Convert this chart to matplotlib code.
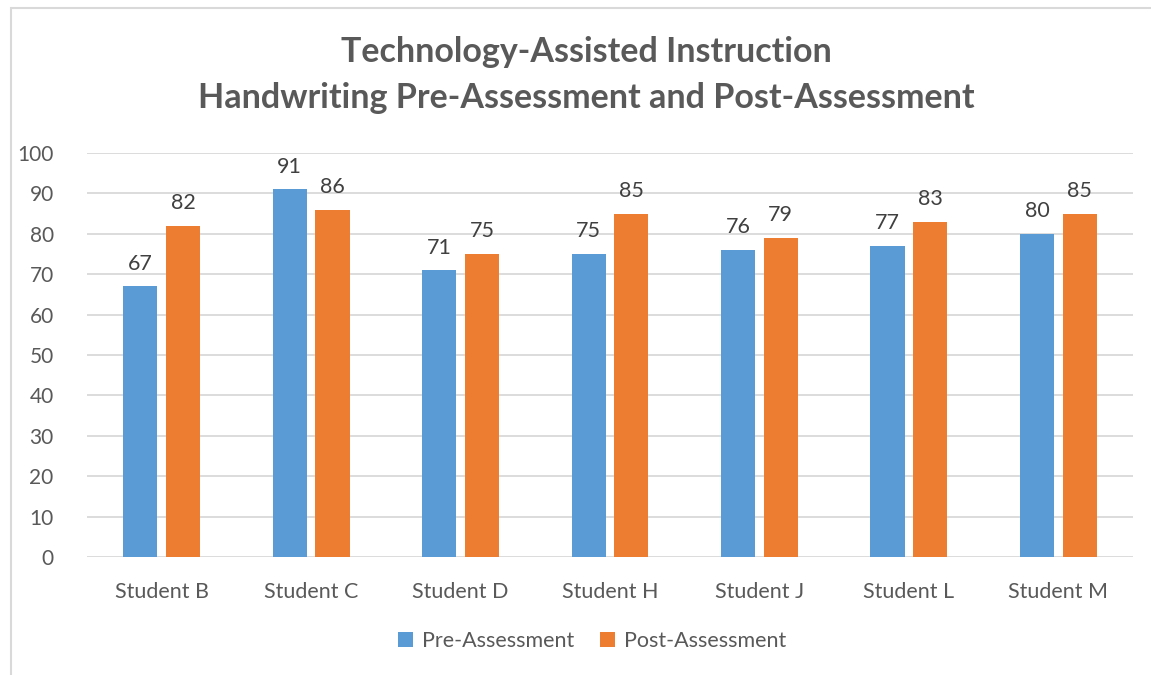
import numpy as np
import matplotlib
matplotlib.use("Agg")
import matplotlib.pyplot as plt
from matplotlib.patches import Rectangle

plt.rcParams["font.family"] = ["Lato", "DejaVu Sans"]

students = ["Student B", "Student C", "Student D", "Student H", "Student J", "Student L", "Student M"]
pre_scores = [67, 91, 71, 75, 76, 77, 80]
post_scores = [82, 86, 75, 85, 79, 83, 85]
yticks = list(range(0, 101, 10))

BLUE = "#5B9BD5"
ORANGE = "#ED7D31"
GRAY = "#595959"
GRID = "#D9D9D9"

fig = plt.figure(figsize=(11.51, 6.75), dpi=100)
ax = fig.add_axes([87 / 1151, 1 - 557 / 675, (1133 - 87) / 1151, (557 - 153) / 675])

x = np.arange(len(students))
w = 0.228
off = 0.143
b1 = ax.bar(x - off, pre_scores, w, color=BLUE, label="Pre-Assessment", zorder=3)
b2 = ax.bar(x + off, post_scores, w, color=ORANGE, label="Post-Assessment", zorder=3)
for bars in (b1, b2):
    ax.bar_label(bars, padding=9, fontsize=15.5, color="#404040")

ax.set_xlim(-0.5, len(students) - 0.5)
ax.set_ylim(0, 100)
ax.set_yticks(yticks)
ax.set_xticks(x)
ax.set_xticklabels(students)
ax.tick_params(axis="both", length=0, labelsize=15, colors=GRAY)
ax.tick_params(axis="x", labelsize=15.5, pad=18)
ax.tick_params(axis="y", pad=24)
ax.yaxis.grid(True, color=GRID, linewidth=1.3, zorder=0)
for s in ax.spines.values():
    s.set_visible(False)

cx = 586 / 1151
fig.text(cx, 1 - 52 / 675, "Technology-Assisted Instruction", ha="center", va="center",
         fontsize=24.5, fontweight="bold", color=GRAY)
fig.text(cx, 1 - 98 / 675, "Handwriting Pre-Assessment and Post-Assessment", ha="center", va="center",
         fontsize=24.5, fontweight="bold", color=GRAY)

fig.legend(handles=[b1, b2], loc="center", bbox_to_anchor=(592 / 1151, 1 - 641 / 675), ncol=2, frameon=False,
           fontsize=15.5, labelcolor=GRAY, handlelength=0.7, handleheight=0.7, handletextpad=0.4,
           columnspacing=1.2)

fig.patches.append(Rectangle((11 / 1151, -0.1), 1.2, 1 - 8 / 675 + 0.1, transform=fig.transFigure,
                             fill=False, edgecolor=GRID, linewidth=1.5))

fig.savefig("out.png", dpi=100)
